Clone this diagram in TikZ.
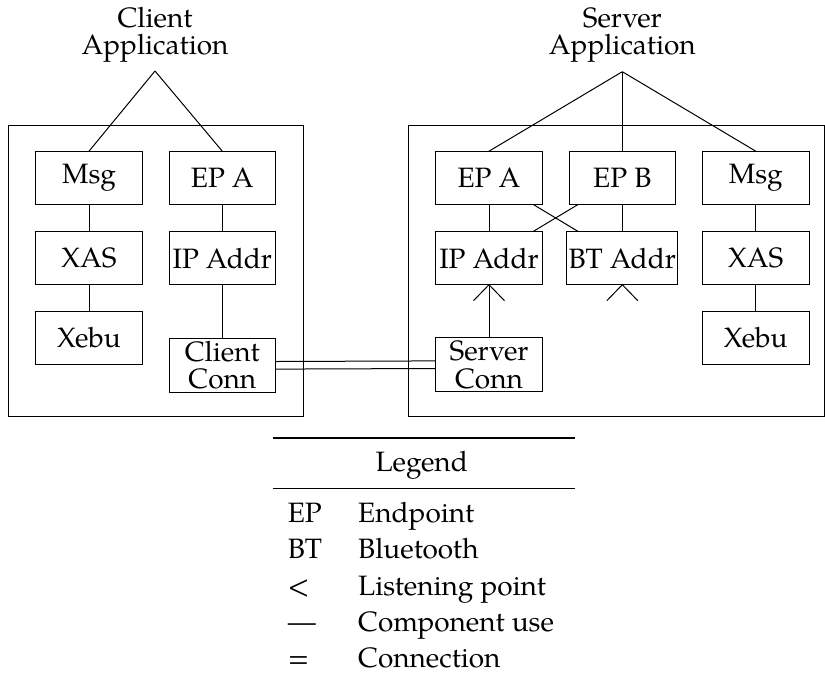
\documentclass[tikz,border=0pt]{standalone}
\usepackage{fontspec}
\IfFontExistsTF{TeX Gyre Pagella}{\setmainfont{TeX Gyre Pagella}}{\setmainfont{Liberation Serif}}
\begin{document}
\begin{tikzpicture}[x=0.5pt,y=-0.5pt,line width=0.5pt,
  every node/.style={font=\fontsize{14}{13.8}\selectfont},
  comp/.style={draw,minimum width=53.3pt,minimum height=26.2pt,inner sep=1pt,align=center},
  conn/.style={comp,minimum height=27pt,inner sep=0.5pt},
  apptitle/.style={align=center,anchor=south,inner sep=0pt},
  lgitem/.style={anchor=base west,inner sep=0pt}]
\useasboundingbox (0,0) rectangle (825,687);

% enclosing boxes of the two hosts
\draw (8.3,125) rectangle (303,416);
\draw (408.3,125) rectangle (824,416.5);

% client side components
\node[comp] (cmsg)  at (89,177.9)    {Msg};
\node[comp] (cepa)  at (222.3,177.9) {EP A};
\node[comp] (cxas)  at (89,258)      {XAS};
\node[comp] (cip)   at (222.3,258)   {IP Addr};
\node[comp] (cxebu) at (89,337.8)    {Xebu};
\node[conn] (ccon)  at (222.3,365.3) {Client\\Conn};

% server side components
\node[comp] (sepa)  at (489,177.9)   {EP A};
\node[comp] (sepb)  at (622.3,177.9) {EP B};
\node[comp] (smsg)  at (755.8,177.9) {Msg};
\node[comp] (sip)   at (489,258)     {IP Addr};
\node[comp] (sbt)   at (622.3,258)   {BT Addr};
\node[comp] (sxas)  at (755.8,258)   {XAS};
\node[comp] (sxebu) at (755.8,337.8) {Xebu};
\node[conn] (scon)  at (489,364.7)   {Server\\Conn};

% applications on top
\node[apptitle] (capp) at (155,63)   {Client\\Application};
\node[apptitle] (sapp) at (622.3,63) {Server\\Application};
\coordinate (capex) at (155,71);
\coordinate (sapex) at (622.3,71.7);

% component use
\draw (capex) -- (cmsg.north);
\draw (capex) -- (cepa.north);
\draw (cmsg) -- (cxas);
\draw (cxas) -- (cxebu);
\draw (cepa) -- (cip);
\draw (cip) -- (ccon);

\draw (sapex) -- (sepa.north);
\draw (sapex) -- (sepb.north);
\draw (sapex) -- (smsg.north);
\draw (sepa) -- (sip);
\draw (sepb) -- (sbt);
\draw (sepa) -- (sbt);
\draw (sepb) -- (sip);
\draw (smsg) -- (sxas);
\draw (sxas) -- (sxebu);
\draw (scon) -- (sip);

% listening points
\draw ([xshift=-7.75pt,yshift=-8pt]sip.south) -- (sip.south) -- ([xshift=7.75pt,yshift=-8pt]sip.south);
\draw ([xshift=-7.75pt,yshift=-8pt]sbt.south) -- (sbt.south) -- ([xshift=7.75pt,yshift=-8pt]sbt.south);

% connection
\draw ([yshift=1.9pt]ccon.east) -- ([yshift=1.9pt]scon.west);
\draw ([yshift=-1.9pt]ccon.east) -- ([yshift=-1.9pt]scon.west);

% legend
\draw[line width=1pt] (272.7,438.3) -- (575,438.3);
\node[anchor=base] (lgd) at (421.7,471.7) {Legend};
\draw[line width=0.65pt] (272.7,488.3) -- (575,488.3);
\node[lgitem] (k1) at (287.3,522.7) {EP};
\node[lgitem] (d1) at (357.7,522.7) {Endpoint};
\node[lgitem] (k2) at (287.3,558.9) {BT};
\node[lgitem] (d2) at (357.7,558.9) {Bluetooth};
\node[lgitem] (k3) at (287.3,595.1) {<};
\node[lgitem] (d3) at (357.7,595.1) {Listening point};
\node[lgitem] (k4) at (287.3,631.3) {---};
\node[lgitem] (d4) at (357.7,631.3) {Component use};
\node[lgitem] (k5) at (287.3,667.5) {=};
\node[lgitem] (d5) at (357.7,667.5) {Connection};
\end{tikzpicture}
\end{document}
